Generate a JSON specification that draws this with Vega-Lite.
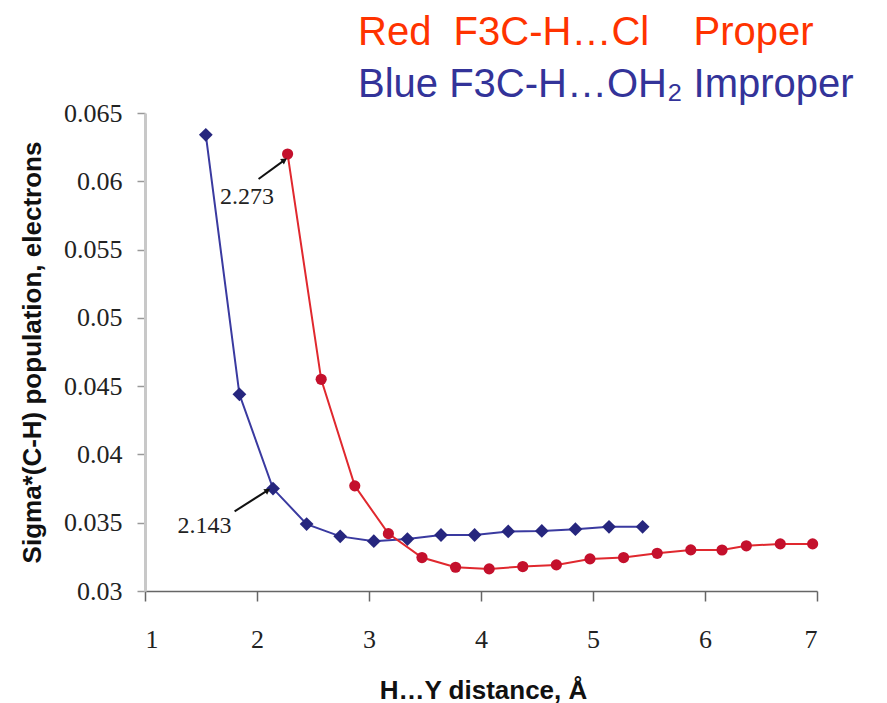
{
  "$schema": "https://vega.github.io/schema/vega-lite/v6.json",
  "width": 672,
  "height": 478,
  "autosize": {"type": "none"},
  "padding": {"left": 145, "top": 113, "right": 70, "bottom": 112},
  "background": "white",
  "config": {
    "view": {"stroke": null},
    "axis": {"labelFont": "Liberation Serif", "labelFontSize": 26, "labelFontWeight": "normal"}
  },
  "title": {
    "text": "Red\u00a0\u00a0F3C-H…Cl\u00a0\u00a0\u00a0\u00a0Proper",
    "subtitle": "Blue F3C-H…OH₂ Improper",
    "anchor": "start",
    "frame": "group",
    "dx": 213,
    "font": "Liberation Sans",
    "fontSize": 40,
    "fontWeight": "normal",
    "color": "#FF3300",
    "subtitleFont": "Liberation Sans",
    "subtitleFontSize": 40,
    "subtitleColor": "#333399",
    "subtitlePadding": 12,
    "offset": -5
  },
  "datasets": {
    "pts": [
      {"series": "Blue", "x": 1.543, "y": 0.0634},
      {"series": "Blue", "x": 1.843, "y": 0.0444},
      {"series": "Blue", "x": 2.143, "y": 0.0375},
      {"series": "Blue", "x": 2.443, "y": 0.0349},
      {"series": "Blue", "x": 2.743, "y": 0.0340},
      {"series": "Blue", "x": 3.043, "y": 0.03365},
      {"series": "Blue", "x": 3.343, "y": 0.0338},
      {"series": "Blue", "x": 3.643, "y": 0.0341},
      {"series": "Blue", "x": 3.943, "y": 0.0341},
      {"series": "Blue", "x": 4.243, "y": 0.03436},
      {"series": "Blue", "x": 4.543, "y": 0.0344},
      {"series": "Blue", "x": 4.843, "y": 0.03453},
      {"series": "Blue", "x": 5.143, "y": 0.0347},
      {"series": "Blue", "x": 5.443, "y": 0.0347},
      {"series": "Red", "x": 2.273, "y": 0.0620},
      {"series": "Red", "x": 2.573, "y": 0.0455},
      {"series": "Red", "x": 2.873, "y": 0.0377},
      {"series": "Red", "x": 3.173, "y": 0.0342},
      {"series": "Red", "x": 3.473, "y": 0.03245},
      {"series": "Red", "x": 3.773, "y": 0.03174},
      {"series": "Red", "x": 4.073, "y": 0.03162},
      {"series": "Red", "x": 4.373, "y": 0.03179},
      {"series": "Red", "x": 4.673, "y": 0.03191},
      {"series": "Red", "x": 4.973, "y": 0.03235},
      {"series": "Red", "x": 5.273, "y": 0.03245},
      {"series": "Red", "x": 5.573, "y": 0.03276},
      {"series": "Red", "x": 5.873, "y": 0.03301},
      {"series": "Red", "x": 6.152, "y": 0.0330},
      {"series": "Red", "x": 6.369, "y": 0.03331},
      {"series": "Red", "x": 6.672, "y": 0.03345},
      {"series": "Red", "x": 6.961, "y": 0.03345}
    ],
    "ann": [
      {"label": "2.273", "tx": 1.911, "ty": 0.05887, "x": 2.014, "y": 0.06017, "x2": 2.245, "y2": 0.06155},
      {"label": "2.143", "tx": 1.531, "ty": 0.03475, "x": 1.80, "y": 0.03583, "x2": 2.095, "y2": 0.03737}
    ]
  },
  "layer": [
    {
      "data": {"name": "pts"},
      "transform": [{"filter": "datum.series === 'Blue'"}],
      "mark": {"type": "line", "color": "#3A3AA0", "strokeWidth": 2},
      "encoding": {
        "x": {
          "field": "x", "type": "quantitative",
          "scale": {"domain": [1, 7], "nice": false, "zero": false},
          "axis": {
            "values": [1, 2, 3, 4, 5, 6, 7],
            "format": "d",
            "grid": false,
            "labelFont": "Liberation Serif",
            "labelFontSize": 26,
            "labelColor": "#222222",
            "labelBaseline": "alphabetic",
            "labelPadding": 46,
            "domainColor": "#666666",
            "domainWidth": 1.5,
            "tickColor": "#666666",
            "tickWidth": 1.5,
            "tickSize": 10,
            "title": "H…Y distance, Å",
            "titleFont": "Liberation Sans",
            "titleFontWeight": "bold",
            "titleFontSize": 26,
            "titleColor": "#111111",
            "titleBaseline": "alphabetic",
            "titleX": 338,
            "titleY": 107
          }
        },
        "y": {
          "field": "y", "type": "quantitative",
          "scale": {"domain": [0.03, 0.065], "nice": false, "zero": false},
          "axis": {
            "values": [0.03, 0.035, 0.04, 0.045, 0.05, 0.055, 0.06, 0.065],
            "format": ".3~f",
            "grid": false,
            "labelFont": "Liberation Serif",
            "labelFontSize": 26,
            "labelColor": "#222222",
            "labelPadding": 15,
            "domainColor": "#C8C8C8",
            "domainWidth": 3,
            "tickColor": "#999999",
            "tickWidth": 1.5,
            "tickSize": 8,
            "title": "Sigma*(C-H) population, electrons",
            "titleFont": "Liberation Sans",
            "titleFontWeight": "bold",
            "titleFontSize": 26,
            "titleColor": "#111111",
            "titleAngle": -90,
            "titleAlign": "center",
            "titleBaseline": "alphabetic",
            "titleX": -105,
            "titleY": 239
          }
        }
      }
    },
    {
      "data": {"name": "pts"},
      "transform": [{"filter": "datum.series === 'Blue'"}],
      "mark": {"type": "point", "shape": "diamond", "filled": true, "color": "#26267E", "opacity": 1, "size": 190},
      "encoding": {
        "x": {"field": "x", "type": "quantitative"},
        "y": {"field": "y", "type": "quantitative"}
      }
    },
    {
      "data": {"name": "pts"},
      "transform": [{"filter": "datum.series === 'Red'"}],
      "mark": {"type": "line", "color": "#E0282E", "strokeWidth": 2},
      "encoding": {
        "x": {"field": "x", "type": "quantitative"},
        "y": {"field": "y", "type": "quantitative"}
      }
    },
    {
      "data": {"name": "pts"},
      "transform": [{"filter": "datum.series === 'Red'"}],
      "mark": {"type": "point", "shape": "circle", "filled": true, "color": "#C4102C", "opacity": 1, "size": 125},
      "encoding": {
        "x": {"field": "x", "type": "quantitative"},
        "y": {"field": "y", "type": "quantitative"}
      }
    },
    {
      "data": {"name": "ann"},
      "mark": {"type": "rule", "color": "#111111", "strokeWidth": 2},
      "encoding": {
        "x": {"field": "x", "type": "quantitative"},
        "y": {"field": "y", "type": "quantitative"},
        "x2": {"field": "x2"},
        "y2": {"field": "y2"}
      }
    },
    {
      "data": {"name": "ann"},
      "mark": {"type": "point", "shape": "triangle-up", "filled": true, "color": "#111111", "opacity": 1, "size": 45, "angle": 56},
      "encoding": {
        "x": {"field": "x2", "type": "quantitative"},
        "y": {"field": "y2", "type": "quantitative"}
      }
    },
    {
      "data": {"name": "ann"},
      "mark": {"type": "text", "font": "Liberation Serif", "fontSize": 24, "color": "#222222", "align": "center", "baseline": "middle"},
      "encoding": {
        "x": {"field": "tx", "type": "quantitative"},
        "y": {"field": "ty", "type": "quantitative"},
        "text": {"field": "label"}
      }
    }
  ]
}
